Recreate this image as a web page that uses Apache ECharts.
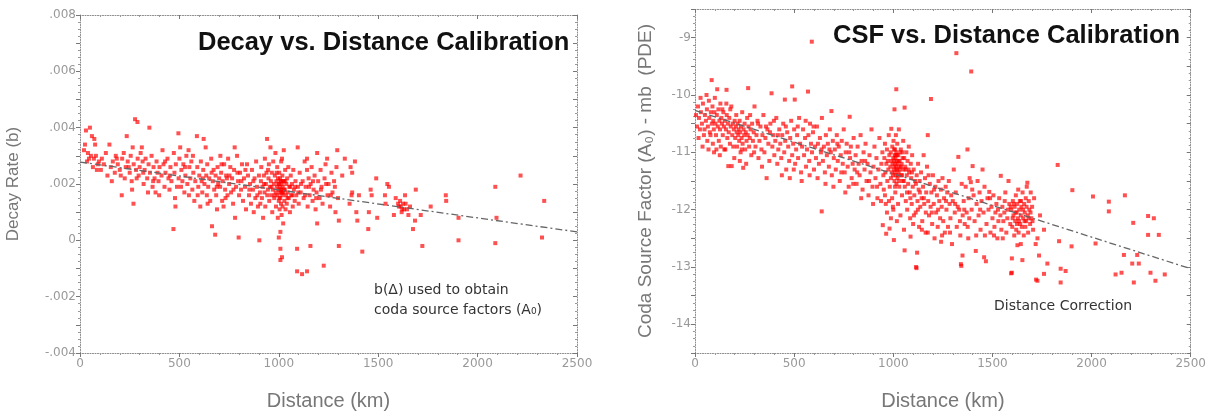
<!DOCTYPE html>
<html><head><meta charset="utf-8">
<script src="https://cdn.jsdelivr.net/npm/echarts@6/dist/echarts.min.js"></script>
<style>html,body{margin:0;padding:0;background:#fff}#c{width:1209px;height:416px}</style>
</head><body><div id="c"></div>
<script>
// ---------- DATA ----------
const decayTitle = "Decay vs. Distance Calibration";
const csfTitle = "CSF vs. Distance Calibration";
const decayNote = ["b(\u0394) used to obtain", "coda source factors (A\u2080)"];
const csfNote = "Distance Correction";
const xTicks = [0, 500, 1000, 1500, 2000, 2500];
const decayYTicks = [-0.004, -0.002, 0, 0.002, 0.004, 0.006, 0.008];
const csfYTicks = [-14, -13, -12, -11, -10, -9];

// decay-rate points [distance km, b]
const decayPoints = [
[30,.0039],[50,.0040],[60,.0037],[72,.0036],[76,.0034],[40,.0031],[35,.0028],[55,.0030],[80,.0030],[90,.0027],[65,.0026],[20,.0032],[45,.0029],[95,.0028],[85,.0025],
[110,.0029],[120,.0027],[130,.0031],[148,.0034],[155,.0026],[165,.0028],[175,.0024],[180,.0030],[190,.0027],[200,.0025],[210,.0016],[212,.0029],[220,.0031],[225,.0022],[235,.0037],[240,.0028],[245,.0026],[250,.0024],[255,.0030],[260,.0021],[265,.0033],[269,.0013],[270,.0027],[277,.0043],[282,.0025],[289,.0042],[290,.0029],[295,.0023],[300,.0026],
[305,.0031],[311,.0033],[315,.0028],[320,.0020],[325,.0025],[330,.0029],[338,.0022],[345,.0027],[349,.0040],[352,.0024],[360,.0030],[365,.0019],[370,.0026],[375,.0022],[380,.0017],[385,.0028],[390,.0024],[395,.0021],[400,.0026],[410,.0023],[415,.0032],[420,.0027],[425,.0019],[430,.0024],[440,.0029],[445,.0022],[450,.0018],[455,.0026],[460,.0021],[470,.0004],[472,.0031],[475,.0024],[480,.0012],[482,.0027],[488,.0019],[495,.0038],[496,.0022],[500,.0029],
[504,.0033],[510,.0025],[515,.0021],[520,.0027],[525,.0017],[530,.0023],[535,.0030],[540,.0020],[546,.0032],[550,.0026],[555,.0022],[560,.0028],[565,.0018],[570,.0024],[575,.0014],[580,.0021],[588,.0037],[590,.0026],[595,.0019],[600,.0023],[605,.0012],[608,.0028],[612,.0021],[615,.0017],[620,.0025],[622,.0036],[626,.0020],[632,.0033],[635,.0023],[638,.0016],[640,.0027],[645,.0019],[650,.0022],[655,.0014],[660,.0029],[664,.0005],[668,.0021],[672,.0025],[675,.0018],[680,.0002],[682,.0023],[685,.0016],[689,.0011],[692,.0026],[695,.0020],[700,.0022],
[705,.0019],[706,.0030],[710,.0024],[715,.0014],[718,.0021],[722,.0012],[725,.0027],[730,.0018],[735,.0023],[739,.0022],[742,.0016],[745,.0029],[750,.0020],[756,.0026],[760,.0017],[765,.0022],[770,.0013],[775,.0025],[778,.0033],[780,.0008],[785,.0019],[790,.0030],[795,.0021],[798,.0001],[800,.0016],[805,.0024],[810,.0018],[815,.0027],[820,.0014],[825,.0022],[830,.0019],[835,.0011],[840,.0027],[845,.0023],[850,.0016],[855,.0020],[860,.0013],[865,.0025],[870,.0018],[874,.0010],[878,.0022],[882,.0015],[886,.0028],[890,.0019],[895,.0012],[900,.0023],
[902,.0000],[905,.0017],[907,.0013],[910,.0021],[912,.0026],[915,.0015],[918,.0019],[921,.0008],[925,.0023],[928,.0017],[930,.0029],[932,.0012],[935,.0020],[938,.0024],[941,.0036],[942,.0016],[945,.0018],[948,.0022],[950,.0027],[952,.0014],[955,.0019],[958,.0033],[960,.0021],[962,.0016],[965,.0024],[967,.0010],[970,.0018],[972,.0028],[975,.0020],[977,.0015],[980,.0023],[983,.0031],[984,.0017],[986,.0012],[988,.0021],[990,.0019],[992,.0026],[994,.0016],[995,.0008],[996,.0022],[998,.0018],[1000,.0001],[1000,.0014],[1001,.0020],[1002,.0024],[1003,.0017],[1004,.0011],[1005,.0019],[1006,.0022],[1007,.0015],[1008,.0003],[1008,-.0003],[1008,-.0007],[1009,.0018],[1010,.0021],[1011,.0013],[1012,.0028],[1013,.0017],[1014,.0009],[1015,.0020],[1016,-.0006],[1016,.0029],[1017,.0016],[1018,.0023],[1019,.0012],[1020,.0019],[1022,.0006],[1023,.0017],[1025,.0032],[1026,.0021],[1028,.0014],[1030,.0018],[1032,.0025],[1034,.0011],[1036,.0016],[1038,.0020],[1040,.0013],[1042,.0022],[1045,.0017],[1048,.0026],[1050,.0015],[1053,.0019],[1056,.0010],[1060,.0023],[1063,.0016],[1066,.0020],[1070,.0012],[1073,.0025],[1076,.0018],[1080,.0014],[1084,.0021],[1088,.0016],[1092,-.0003],[1092,-.0011],[1095,.0033],[1096,.0019],[1100,.0013],
[1105,.0024],[1110,.0017],[1117,-.0012],[1120,.0021],[1125,.0015],[1130,.0028],[1135,.0019],[1142,.0029],[1142,.0025],[1142,-.0011],[1145,.0012],[1150,.0022],[1155,.0016],[1159,-.0002],[1160,.0020],[1165,.0026],[1170,.0014],[1175,.0018],[1180,.0023],[1185,.0011],[1190,.0017],[1193,.0031],[1193,.0006],[1198,.0021],[1205,.0015],[1210,.0025],[1215,.0019],[1220,.0013],[1226,-.0009],[1230,.0022],[1235,.0027],[1243,.0029],[1245,.0016],[1250,.0020],[1258,.0012],[1265,.0024],[1270,.0017],[1278,.0021],[1285,.0010],[1290,.0026],[1298,.0015],
[1302,.0007],[1302,-.0002],[1294,.0032],[1319,.0023],[1332,.0029],[1356,.0013],[1361,.0026],[1366,.0016],[1369,.0024],[1369,.0017],[1383,.0028],[1390,.0010],[1395,.0007],[1403,.0016],[1420,-.0004],[1450,.0004],[1453,.0010],[1462,.0018],[1467,.0016],[1490,.0022],[1495,.0008],[1534,.0016],[1537,.0013],[1546,.0020],[1554,.0019],[1579,.0009],[1588,.0015],[1600,.0013],[1605,.0012],[1610,.0014],[1613,.0012],[1618,.0010],[1621,.0011],[1625,.0013],[1630,.0011],[1635,.0016],[1638,.0013],[1645,.0011],[1652,.0009],[1660,.0012],[1675,.0004],[1685,.0007],[1689,.0018],[1714,.0009],[1722,-.0002],[1764,.0012],[1840,.0016],[1842,.0014],[1904,.0008],[1904,.0000],[2089,.0019],[2095,.0008],[2089,-.0001],[2216,.0023],[2335,.0014],[2324,.0001],
[25,.0034],[70,.0029],[105,.0025],[138,.0023],[160,.0021],[185,.0029],[205,.0023],[230,.0026],[262,.0018],[285,.0022],[318,.0024],[342,.0017],[368,.0021],[398,.0016],[428,.0028],[452,.0023],[478,.0015],[508,.0019],[528,.0026],[548,.0016],[568,.0030],[592,.0016],[618,.0022],[642,.0013],[662,.0024],[688,.0019],[712,.0027],[732,.0015],[752,.0023],[772,.0018],[792,.0024],[812,.0021],[832,.0025],[852,.0018],[872,.0021],[892,.0016],[926,.0020],[946,.0025],[963,.0019],[979,.0016],[989,.0024],[997,.0020],[1003,.0015],[1009,.0021],[1012,.0018],[1018,.0017],[1021,.0021],[1027,.0018],[1033,.0021],[1044,.0015],[1058,.0019],[1068,.0016],[1082,.0019],[1098,.0017],[1112,.0020],[1132,.0016],[1152,.0019],[1172,.0021],[1188,.0015],[1212,.0018],[1238,.0020],[1262,.0016],[1282,.0019]
];
// decay fit line endpoints [distance, b]
const decayFit = [[0, 0.00278], [2500, 0.0003]];

// CSF points [distance km, Ao - mb]
const csfPoints = [
[15,-10.2],[20,-10.4],[25,-10.6],[30,-10.3],[35,-10.5],[40,-10.15],[45,-10.7],[50,-10.35],[55,-10.45],[60,-10.25],[62,-10.8],[65,-10.55],[70,-10.1],[72,-10.4],[75,-10.65],[80,-10.3],[84,-9.74],[85,-10.5],[88,-10.2],[90,-10.85],[92,-10.45],[95,-10.6],[98,-10.3],[100,-10.05],
[103,-10.5],[106,-10.7],[110,-10.35],[112,-9.9],[115,-10.55],[118,-10.25],[120,-10.8],[123,-10.45],[126,-10.6],[128,-10.15],[130,-10.9],[133,-10.4],[136,-10.5],[140,-10.7],[143,-10.3],[146,-10.55],[150,-10.45],[153,-10.95],[156,-10.6],[159,-9.91],[160,-10.35],[163,-10.75],[166,-10.5],[168,-11.24],[170,-10.65],[173,-10.4],[176,-10.85],[180,-10.55],[183,-10.2],[185,-11.24],[188,-10.7],[190,-10.5],[193,-10.9],[196,-10.6],[200,-10.45],
[203,-10.75],[206,-10.55],[210,-10.65],[212,-10.9],[215,-10.5],[218,-10.7],[220,-10.6],[223,-10.8],[225,-10.45],[228,-10.65],[230,-11.0],[232,-10.55],[235,-10.75],[238,-10.3],[240,-10.85],[243,-11.27],[245,-10.6],[248,-10.7],[250,-10.5],[253,-10.95],[256,-10.65],[260,-10.8],[263,-10.4],[266,-10.7],[268,-9.88],[270,-10.55],[273,-10.9],[276,-10.75],[280,-10.6],[284,-11.05],[288,-10.5],[292,-10.8],[296,-10.65],[300,-10.2],[305,-10.9],[310,-10.7],[315,-10.45],[320,-11.1],[325,-10.8],[330,-10.55],[335,-10.95],[340,-10.7],[345,-10.35],[350,-11.0],[355,-10.75],[361,-11.45],[365,-10.6],[370,-10.85],[375,-11.15],[380,-10.5],[386,-9.97],[390,-10.9],[395,-10.7],[400,-11.05],
[405,-10.8],[410,-10.4],[415,-11.2],[420,-10.95],[425,-10.6],[430,-10.85],[435,-11.1],[440,-10.7],[445,-10.5],[450,-11.0],[453,-10.08],[455,-10.8],[460,-11.3],[465,-10.65],[470,-10.9],[475,-11.15],[480,-10.75],[485,-10.45],[490,-9.85],[490,-11.05],[495,-10.85],[500,-10.6],[503,-10.08],[505,-11.2],[510,-10.95],[515,-10.7],[520,-11.1],[525,-10.4],[530,-10.85],[535,-11.35],[540,-10.9],[545,-10.6],[550,-11.05],[555,-10.75],[560,-11.25],[565,-10.95],[570,-9.94],[572,-10.7],[576,-11.15],[580,-10.5],[585,-10.85],[589,-9.07],[590,-11.0],[595,-10.65],[600,-11.3],
[605,-10.9],[610,-11.1],[615,-10.55],[620,-10.85],[625,-11.2],[630,-10.75],[635,-11.0],[639,-12.03],[640,-10.4],[645,-11.15],[650,-10.9],[655,-11.35],[660,-10.7],[665,-11.05],[670,-10.85],[675,-11.25],[680,-10.6],[685,-11.0],[688,-10.28],[690,-11.4],[695,-10.8],[700,-11.1],[705,-10.95],[710,-11.3],[715,-10.7],[720,-11.15],[725,-10.9],[730,-11.5],[735,-11.05],[740,-10.8],[745,-11.2],[750,-10.6],[755,-11.35],[760,-11.0],[765,-10.85],[770,-11.25],[775,-11.6],[780,-10.38],[782,-11.1],[786,-10.9],[790,-11.45],[795,-11.2],[800,-10.75],
[805,-11.3],[810,-11.05],[815,-11.55],[820,-10.9],[825,-11.2],[830,-11.4],[835,-10.7],[840,-11.15],[845,-11.65],[850,-11.0],[855,-11.3],[860,-10.85],[865,-11.5],[870,-11.2],[875,-11.75],[880,-11.05],[885,-11.35],[890,-10.6],[895,-11.6],[900,-11.25],[905,-10.9],[910,-11.45],[915,-11.1],[920,-11.8],[925,-11.3],[930,-10.75],[935,-11.55],[940,-11.2],[945,-11.0],[947,-12.27],[950,-11.4],
[952,-11.65],[955,-11.1],[958,-10.85],[960,-11.35],[962,-11.9],[964,-12.42],[965,-11.2],[968,-10.95],[970,-11.5],[972,-11.15],[975,-11.3],[977,-10.7],[980,-11.05],[981,-12.33],[982,-11.6],[985,-11.25],[987,-11.0],[988,-11.45],[990,-10.59],[990,-11.15],[992,-11.35],[994,-11.8],[995,-10.9],[996,-11.2],[998,-11.4],[1000,-11.1],[1000,-12.0],[1001,-10.8],[1002,-11.3],[1003,-12.53],[1004,-11.15],[1005,-11.25],[1006,-10.25],[1006,-11.5],[1007,-11.05],[1008,-11.35],[1009,-10.95],[1010,-11.2],[1010,-11.7],[1011,-11.1],[1012,-11.4],[1013,-10.7],[1014,-11.25],[1015,-9.9],[1015,-11.0],[1016,-11.55],[1017,-11.15],[1018,-12.2],[1019,-11.3],[1020,-10.85],[1021,-11.45],[1022,-11.2],[1024,-11.9],[1025,-11.05],[1027,-11.35],[1028,-10.6],[1030,-11.6],[1032,-11.15],[1034,-11.3],[1036,-12.1],[1038,-10.95],[1040,-11.4],[1042,-11.2],[1044,-11.75],[1046,-11.0],[1048,-11.5],[1050,-10.8],[1052,-11.3],[1054,-12.35],[1055,-11.1],[1057,-10.22],[1057,-12.71],[1058,-11.6],[1060,-11.25],[1063,-11.85],[1066,-11.0],[1068,-11.4],[1070,-12.0],[1072,-11.15],[1075,-11.55],[1078,-10.9],[1080,-11.35],[1083,-11.7],[1085,-12.15],[1087,-12.47],[1088,-11.2],[1090,-11.45],[1093,-11.9],[1095,-11.05],[1098,-11.6],[1100,-12.25],
[1103,-11.3],[1106,-11.75],[1110,-11.5],[1113,-12.05],[1115,-13.0],[1117,-13.02],[1118,-11.4],[1120,-12.75],[1122,-11.85],[1125,-11.2],[1128,-11.65],[1130,-12.3],[1133,-11.5],[1136,-11.95],[1140,-11.35],[1143,-11.8],[1146,-12.2],[1150,-11.6],[1153,-11.05],[1156,-11.9],[1160,-11.45],[1163,-12.4],[1166,-11.7],[1170,-11.25],[1174,-10.7],[1174,-12.4],[1176,-11.85],[1180,-12.1],[1184,-11.55],[1188,-11.95],[1190,-10.07],[1192,-11.7],[1196,-12.25],[1200,-11.4],[1204,-11.9],[1208,-12.5],[1212,-11.6],[1216,-12.05],[1220,-11.75],[1224,-12.3],[1228,-11.5],[1232,-11.85],[1236,-12.15],[1241,-12.56],[1240,-11.65],[1244,-11.95],[1248,-11.45],[1252,-12.2],[1256,-11.8],[1260,-12.4],[1264,-11.6],[1268,-12.0],[1272,-11.7],[1276,-12.3],[1280,-11.5],[1284,-11.9],[1288,-12.15],[1292,-11.75],[1296,-12.6],[1300,-11.85],
[1318,-9.27],[1393,-9.59],[1374,-10.95],[1328,-11.08],[1305,-11.3],[1310,-12.05],[1315,-11.7],[1320,-12.3],[1325,-11.95],[1332,-12.0],[1336,-12.2],[1341,-12.95],[1343,-12.98],[1345,-11.55],[1349,-12.8],[1350,-12.1],[1355,-11.85],[1360,-12.25],[1365,-11.6],[1370,-12.05],[1375,-12.3],[1380,-11.8],[1383,-12.15],[1385,-11.45],[1391,-11.52],[1395,-12.0],[1400,-11.24],[1405,-11.75],[1410,-12.2],[1416,-12.72],[1420,-11.9],[1425,-11.5],[1430,-12.1],[1435,-11.7],[1440,-12.35],[1445,-11.85],[1450,-11.3],[1455,-12.05],[1458,-12.83],[1460,-11.6],[1467,-12.9],[1470,-12.25],[1475,-11.8],[1480,-12.0],[1484,-11.69],[1490,-12.4],[1495,-11.95],[1500,-12.15],
[1505,-11.75],[1510,-12.3],[1515,-12.05],[1520,-11.9],[1525,-12.5],[1530,-12.2],[1534,-11.8],[1540,-12.1],[1542,-11.41],[1545,-12.35],[1550,-11.95],[1555,-12.2],[1560,-12.05],[1565,-11.7],[1570,-12.4],[1575,-12.15],[1581,-11.5],[1585,-11.9],[1590,-12.25],[1594,-13.11],[1595,-12.0],[1598,-12.85],[1598,-13.1],[1600,-12.3],[1603,-11.85],[1606,-12.1],[1610,-12.45],[1612,-11.95],[1615,-12.2],[1618,-11.75],[1620,-12.35],[1622,-12.05],[1625,-11.9],[1626,-12.62],[1628,-12.15],[1630,-11.65],[1632,-12.4],[1635,-12.0],[1638,-11.85],[1640,-12.25],[1643,-12.6],[1643,-12.1],[1646,-11.95],[1648,-12.3],[1651,-12.88],[1652,-11.7],[1655,-12.15],[1658,-12.45],[1660,-11.9],[1663,-12.05],[1666,-12.3],[1668,-11.8],[1670,-12.2],[1673,-11.6],[1676,-11.53],[1678,-12.1],[1680,-12.4],[1683,-11.85],[1686,-12.0],[1690,-12.25],[1693,-11.7],[1696,-12.15],[1700,-11.95],[1705,-12.35],[1710,-11.8],[1718,-12.6],[1720,-13.22],[1727,-12.5],[1727,-13.24],[1735,-12.8],[1740,-12.1],[1760,-12.35],[1760,-13.12],[1777,-12.94],
[1829,-11.22],[1836,-12.55],[1844,-13.03],[1844,-13.27],[1869,-13.07],[1899,-12.64],[1903,-11.66],[2007,-11.77],[2020,-12.59],[2087,-11.86],[2087,-12.03],[2121,-13.13],[2151,-13.1],[2163,-12.79],[2168,-11.75],[2205,-12.94],[2210,-12.23],[2213,-13.27],[2230,-12.79],[2238,-12.94],[2285,-12.11],[2285,-12.44],[2297,-13.1],[2314,-12.15],[2322,-13.24],[2339,-12.44],[2369,-13.13],
[5,-10.35],[10,-10.55],[18,-10.75],[28,-10.05],[38,-10.9],[48,-10.6],[58,-10.0],[68,-10.95],[78,-10.7],[96,-11.0],[108,-10.95],[125,-11.05],[138,-10.25],[148,-10.95],[158,-10.15],[178,-10.25],[198,-11.1],[208,-10.35],[226,-11.15],[236,-10.95],[258,-11.2],[278,-10.35],[298,-11.0],[318,-10.5],[338,-11.25],[358,-10.55],[378,-10.65],[398,-10.45],[418,-10.7],[438,-11.4],[458,-10.55],[478,-11.45],[498,-11.3],[518,-10.55],[538,-11.5],[558,-10.45],[578,-11.4],[598,-10.55],[618,-11.45],[638,-10.95],[658,-11.55],[678,-10.95],[698,-11.6],[718,-10.85],[738,-11.35],[758,-11.7],[778,-11.0],[798,-11.55],[818,-11.35],[838,-11.8],[858,-11.15],[878,-11.5],[898,-11.9],[918,-11.6],[938,-11.85],[958,-11.75],[968,-12.05],[978,-11.85],[988,-12.15],[998,-11.95],[1004,-10.95],[1009,-11.6],[1012,-11.05],[1016,-11.3],[1019,-11.05],[1023,-11.4],[1026,-11.15],[1029,-11.5],[1031,-11.25],[1035,-11.0],[1039,-11.25],[1044,-11.4],[1047,-11.1],[1053,-11.5],[1062,-11.3],[1069,-11.7],[1077,-11.3],[1086,-11.8],[1094,-11.35],[1104,-12.1],[1114,-11.55],[1124,-12.0],[1134,-11.7],[1144,-12.35],[1154,-11.8],[1164,-12.05],[1178,-11.4],[1194,-12.05],[1206,-11.65],[1226,-12.0],[1246,-12.45],[1266,-11.85],[1286,-12.4],[1312,-11.9],[1338,-12.45],[1358,-12.0],[1378,-12.5],[1398,-11.65],[1418,-12.45],[1438,-12.0],[1462,-12.45],[1488,-11.8],[1508,-12.45],[1528,-12.0],[1552,-12.5],[1562,-11.85],[1578,-12.0],[1592,-11.95],[1602,-12.15],[1608,-11.9],[1616,-12.05],[1624,-12.25],[1634,-12.2],[1644,-11.85],[1654,-12.0],[1662,-12.2],[1672,-11.95],[1682,-12.15],[1692,-12.05],[1702,-12.2]
];
// CSF fit line endpoints
const csfFit = [[0, -10.27], [2500, -13.03]];

// ---------- CHART ----------
const FONT = '"Liberation Sans", Arial, sans-serif';
const WIDE = '"DejaVu Sans", sans-serif';
const chart = echarts.init(document.getElementById('c'), null, {renderer: 'canvas'});

function fmtDecay(v) {
  const k = Math.round(v * 1000);
  if (k % 2 !== 0) return '';
  if (k === 0) return '0';
  return (k < 0 ? '-' : '') + '.' + String(Math.abs(k)).padStart(3, '0');
}
function fmtCsf(v) {
  const r = Math.round(v * 2) / 2;
  return Number.isInteger(r) ? String(r) : '';
}
function fmtX(v) { return String(Math.round(v)); }

const axisLineStyle = {color: '#8a8a8a', width: 1, type: [1, 1.5]};
function xAx(grid, pos, show) {
  return {
    type: 'value', gridIndex: grid, position: pos, min: 0, max: 2500, interval: 500,
    axisLine: {show: true, onZero: false, lineStyle: axisLineStyle},
    axisTick: {show: true, inside: pos === 'top', length: 4, lineStyle: {color: '#777'}},
    minorTick: {show: true, splitNumber: 5, length: 2, lineStyle: {color: '#999'}},
    splitLine: {show: false},
    axisLabel: {show: show, color: '#999', fontFamily: WIDE, fontSize: 12, margin: 5, formatter: fmtX},
    name: show ? 'Distance (km)' : '', nameLocation: 'middle', nameGap: 38,
    nameTextStyle: {color: '#777', fontFamily: FONT, fontSize: 20}
  };
}
function yAx(grid, pos, show, min, max, interval, fmt, name, gap, nsize) {
  return {
    type: 'value', gridIndex: grid, position: pos, min: min, max: max, interval: interval,
    axisLine: {show: true, onZero: false, lineStyle: axisLineStyle},
    axisTick: {show: true, inside: pos === 'right', length: 4, lineStyle: {color: '#777'}},
    minorTick: {show: true, splitNumber: 4, length: 2, lineStyle: {color: '#999'}},
    splitLine: {show: false},
    axisLabel: {show: show, color: '#999', fontFamily: WIDE, fontSize: 12, margin: 4, formatter: fmt},
    name: show ? name : '', nameLocation: 'middle', nameGap: gap, nameRotate: 90,
    nameTextStyle: {color: '#777', fontFamily: FONT, fontSize: nsize || 17}
  };
}

const pointStyle = {color: 'rgba(255,0,0,0.85)'};
chart.setOption({
  animation: false,
  backgroundColor: '#fff',
  grid: [
    {left: 80, right: 632, top: 15, bottom: 51},
    {left: 695, right: 17, top: 9, bottom: 54}
  ],
  xAxis: [xAx(0, 'bottom', true), xAx(0, 'top', false), xAx(1, 'bottom', true), xAx(1, 'top', false)],
  yAxis: [
    yAx(0, 'left', true, -0.004, 0.008, 0.001, fmtDecay, 'Decay Rate (b)', 58, 17),
    yAx(0, 'right', false, -0.004, 0.008, 0.001, fmtDecay, '', 0),
    yAx(1, 'left', true, -14.5, -8.5, 0.5, fmtCsf, 'Coda Source Factor (A\u2080) - mb  (PDE)', 40, 19),
    yAx(1, 'right', false, -14.5, -8.5, 0.5, fmtCsf, '', 0)
  ],
  title: [
    {text: decayTitle, left: 193, top: 25, textStyle: {fontFamily: FONT, fontSize: 25.5, fontWeight: 'bold', color: '#111'}},
    {text: csfTitle, left: 828, top: 18, textStyle: {fontFamily: FONT, fontSize: 25.5, fontWeight: 'bold', color: '#111'}}
  ],
  graphic: [
    {type: 'text', left: 374, top: 280, style: {text: decayNote.join('\n'), font: '14px ' + WIDE, fill: '#333', lineHeight: 20}},
    {type: 'text', left: 994, top: 299, style: {text: csfNote, font: '14px ' + WIDE, fill: '#333'}}
  ],
  series: [
    {type: 'scatter', xAxisIndex: 0, yAxisIndex: 0, data: decayPoints, symbol: 'rect', symbolSize: 4, itemStyle: pointStyle},
    {type: 'line', xAxisIndex: 0, yAxisIndex: 0, data: decayFit, symbol: 'none', lineStyle: {color: '#666', width: 1.3, type: [7, 3, 2, 3]}, z: 3},
    {type: 'scatter', xAxisIndex: 2, yAxisIndex: 2, data: csfPoints, symbol: 'rect', symbolSize: 4, itemStyle: pointStyle},
    {type: 'line', xAxisIndex: 2, yAxisIndex: 2, data: csfFit, symbol: 'none', lineStyle: {color: '#666', width: 1.3, type: [7, 3, 2, 3]}, z: 3}
  ]
});
</script>
</body></html>
